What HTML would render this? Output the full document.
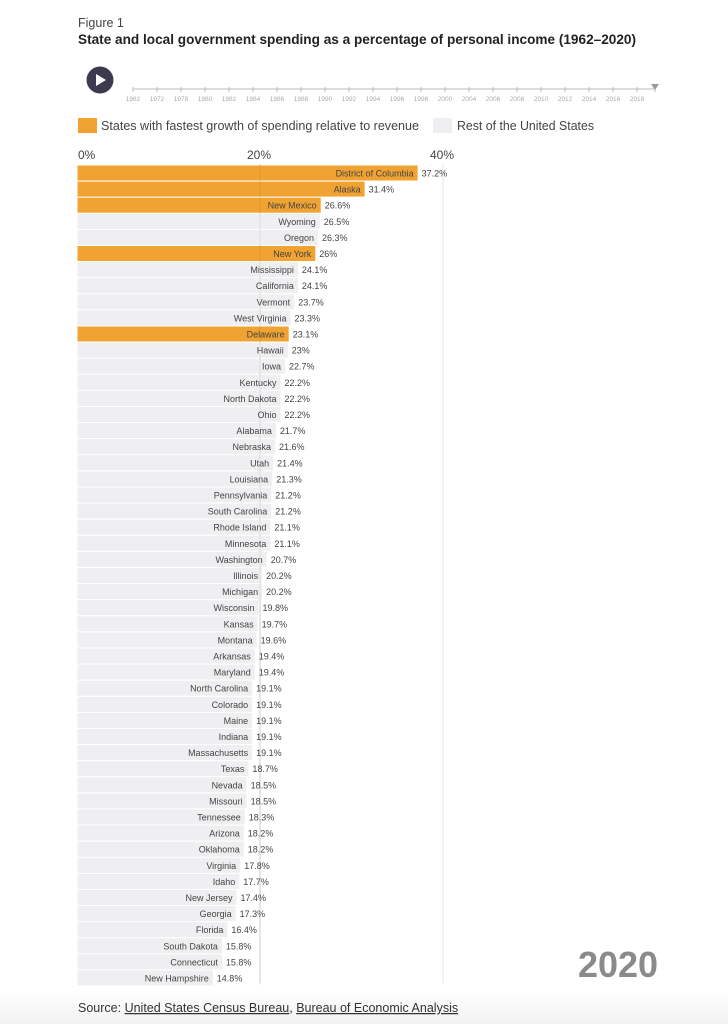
<!DOCTYPE html>
<html><head><meta charset="utf-8"><style>
html,body{margin:0;padding:0;background:#fff;}
body{width:728px;height:1024px;position:relative;overflow:hidden;font-family:"Liberation Sans",sans-serif;}
</style></head><body>
<svg width="728" height="1024" xmlns="http://www.w3.org/2000/svg" style="position:absolute;left:0;top:0;font-family:'Liberation Sans',sans-serif">
<defs><linearGradient id="fg" x1="0" y1="0" x2="0" y2="1"><stop offset="0" stop-color="#fff"/><stop offset="1" stop-color="#f2f2f2"/></linearGradient></defs>
<rect x="0" y="990" width="728" height="34" fill="url(#fg)"/>
<text x="78" y="27" font-size="12.5" fill="#444">Figure 1</text>
<text x="78" y="44" font-size="13.5" font-weight="bold" fill="#222" textLength="558" lengthAdjust="spacingAndGlyphs">State and local government spending as a percentage of personal income (1962–2020)</text>
<circle cx="100" cy="80" r="13.5" fill="#3d3a50"/>
<polygon points="96,74 96,86 106,80" fill="#fff"/>
<line x1="133" y1="89" x2="655" y2="89" stroke="#bbb" stroke-width="1"/>
<g stroke="#bbb" stroke-width="1">
<line x1="133" y1="87" x2="133" y2="92"/><line x1="157" y1="87" x2="157" y2="92"/><line x1="181" y1="87" x2="181" y2="92"/><line x1="205" y1="87" x2="205" y2="92"/><line x1="229" y1="87" x2="229" y2="92"/><line x1="253" y1="87" x2="253" y2="92"/><line x1="277" y1="87" x2="277" y2="92"/><line x1="301" y1="87" x2="301" y2="92"/><line x1="325" y1="87" x2="325" y2="92"/><line x1="349" y1="87" x2="349" y2="92"/><line x1="373" y1="87" x2="373" y2="92"/><line x1="397" y1="87" x2="397" y2="92"/><line x1="421" y1="87" x2="421" y2="92"/><line x1="445" y1="87" x2="445" y2="92"/><line x1="469" y1="87" x2="469" y2="92"/><line x1="493" y1="87" x2="493" y2="92"/><line x1="517" y1="87" x2="517" y2="92"/><line x1="541" y1="87" x2="541" y2="92"/><line x1="565" y1="87" x2="565" y2="92"/><line x1="589" y1="87" x2="589" y2="92"/><line x1="613" y1="87" x2="613" y2="92"/><line x1="637" y1="87" x2="637" y2="92"/><line x1="655" y1="87" x2="655" y2="92"/>
</g>
<polygon points="651,84 659,84 655,90" fill="#999"/>
<g font-size="6.5" fill="#aaa" text-anchor="middle">
<text x="133" y="101">1962</text><text x="157" y="101">1972</text><text x="181" y="101">1978</text><text x="205" y="101">1980</text><text x="229" y="101">1982</text><text x="253" y="101">1984</text><text x="277" y="101">1986</text><text x="301" y="101">1988</text><text x="325" y="101">1990</text><text x="349" y="101">1992</text><text x="373" y="101">1994</text><text x="397" y="101">1996</text><text x="421" y="101">1998</text><text x="445" y="101">2000</text><text x="469" y="101">2004</text><text x="493" y="101">2006</text><text x="517" y="101">2008</text><text x="541" y="101">2010</text><text x="565" y="101">2012</text><text x="589" y="101">2014</text><text x="613" y="101">2016</text><text x="637" y="101">2018</text>
</g>
<rect x="78" y="118" width="19" height="15" fill="#f0a332"/>
<text x="101" y="130" font-size="12.5" fill="#444" textLength="318" lengthAdjust="spacingAndGlyphs">States with fastest growth of spending relative to revenue</text>
<rect x="433" y="118" width="19" height="15" fill="#efeff1"/>
<text x="457" y="130" font-size="12.5" fill="#444" textLength="137" lengthAdjust="spacingAndGlyphs">Rest of the United States</text>
<g font-size="12" fill="#444"><text x="78" y="159">0%</text><text x="247" y="159">20%</text><text x="430" y="159">40%</text></g>
<g id="bars"></g>
<line x1="260" y1="164" x2="260" y2="983" stroke="#ddd" stroke-width="1"/>
<line x1="443" y1="164" x2="443" y2="983" stroke="#e6e6e6" stroke-width="1"/>
<text x="618" y="977" font-size="36" font-weight="bold" fill="#8a8a8a" text-anchor="middle">2020</text>
<text x="78" y="1012" font-size="12.5" fill="#333">Source: <tspan text-decoration="underline">United States Census Bureau</tspan>, <tspan text-decoration="underline">Bureau of Economic Analysis</tspan></text>
<g font-size="9" fill="#444">
<rect x="77.5" y="165.5" width="340.1" height="15" fill="#f0a332"/><text x="413.6" y="176.5" text-anchor="end">District of Columbia</text><text x="421.6" y="176.5">37.2%</text>
<rect x="77.5" y="181.6" width="287.1" height="15" fill="#f0a332"/><text x="360.6" y="192.6" text-anchor="end">Alaska</text><text x="368.6" y="192.6">31.4%</text>
<rect x="77.5" y="197.7" width="243.2" height="15" fill="#f0a332"/><text x="316.7" y="208.7" text-anchor="end">New Mexico</text><text x="324.7" y="208.7">26.6%</text>
<rect x="77.5" y="213.8" width="242.3" height="15" fill="#efeff1"/><text x="315.8" y="224.8" text-anchor="end">Wyoming</text><text x="323.8" y="224.8">26.5%</text>
<rect x="77.5" y="229.9" width="240.5" height="15" fill="#efeff1"/><text x="314.0" y="240.9" text-anchor="end">Oregon</text><text x="322.0" y="240.9">26.3%</text>
<rect x="77.5" y="246.0" width="237.8" height="15" fill="#f0a332"/><text x="311.3" y="257.0" text-anchor="end">New York</text><text x="319.3" y="257.0">26%</text>
<rect x="77.5" y="262.1" width="220.4" height="15" fill="#efeff1"/><text x="293.9" y="273.1" text-anchor="end">Mississippi</text><text x="301.9" y="273.1">24.1%</text>
<rect x="77.5" y="278.2" width="220.4" height="15" fill="#efeff1"/><text x="293.9" y="289.2" text-anchor="end">California</text><text x="301.9" y="289.2">24.1%</text>
<rect x="77.5" y="294.3" width="216.7" height="15" fill="#efeff1"/><text x="290.2" y="305.3" text-anchor="end">Vermont</text><text x="298.2" y="305.3">23.7%</text>
<rect x="77.5" y="310.4" width="213.0" height="15" fill="#efeff1"/><text x="286.5" y="321.4" text-anchor="end">West Virginia</text><text x="294.5" y="321.4">23.3%</text>
<rect x="77.5" y="326.5" width="211.2" height="15" fill="#f0a332"/><text x="284.7" y="337.5" text-anchor="end">Delaware</text><text x="292.7" y="337.5">23.1%</text>
<rect x="77.5" y="342.6" width="210.3" height="15" fill="#efeff1"/><text x="283.8" y="353.6" text-anchor="end">Hawaii</text><text x="291.8" y="353.6">23%</text>
<rect x="77.5" y="358.7" width="207.5" height="15" fill="#efeff1"/><text x="281.0" y="369.7" text-anchor="end">Iowa</text><text x="289.0" y="369.7">22.7%</text>
<rect x="77.5" y="374.8" width="203.0" height="15" fill="#efeff1"/><text x="276.5" y="385.8" text-anchor="end">Kentucky</text><text x="284.5" y="385.8">22.2%</text>
<rect x="77.5" y="390.9" width="203.0" height="15" fill="#efeff1"/><text x="276.5" y="401.9" text-anchor="end">North Dakota</text><text x="284.5" y="401.9">22.2%</text>
<rect x="77.5" y="407.0" width="203.0" height="15" fill="#efeff1"/><text x="276.5" y="418.0" text-anchor="end">Ohio</text><text x="284.5" y="418.0">22.2%</text>
<rect x="77.5" y="423.1" width="198.4" height="15" fill="#efeff1"/><text x="271.9" y="434.1" text-anchor="end">Alabama</text><text x="279.9" y="434.1">21.7%</text>
<rect x="77.5" y="439.2" width="197.5" height="15" fill="#efeff1"/><text x="271.0" y="450.2" text-anchor="end">Nebraska</text><text x="279.0" y="450.2">21.6%</text>
<rect x="77.5" y="455.3" width="195.6" height="15" fill="#efeff1"/><text x="269.1" y="466.3" text-anchor="end">Utah</text><text x="277.1" y="466.3">21.4%</text>
<rect x="77.5" y="471.4" width="194.7" height="15" fill="#efeff1"/><text x="268.2" y="482.4" text-anchor="end">Louisiana</text><text x="276.2" y="482.4">21.3%</text>
<rect x="77.5" y="487.5" width="193.8" height="15" fill="#efeff1"/><text x="267.3" y="498.5" text-anchor="end">Pennsylvania</text><text x="275.3" y="498.5">21.2%</text>
<rect x="77.5" y="503.6" width="193.8" height="15" fill="#efeff1"/><text x="267.3" y="514.6" text-anchor="end">South Carolina</text><text x="275.3" y="514.6">21.2%</text>
<rect x="77.5" y="519.7" width="192.9" height="15" fill="#efeff1"/><text x="266.4" y="530.7" text-anchor="end">Rhode Island</text><text x="274.4" y="530.7">21.1%</text>
<rect x="77.5" y="535.8" width="192.9" height="15" fill="#efeff1"/><text x="266.4" y="546.8" text-anchor="end">Minnesota</text><text x="274.4" y="546.8">21.1%</text>
<rect x="77.5" y="551.9" width="189.2" height="15" fill="#efeff1"/><text x="262.7" y="562.9" text-anchor="end">Washington</text><text x="270.7" y="562.9">20.7%</text>
<rect x="77.5" y="568.0" width="184.6" height="15" fill="#efeff1"/><text x="258.1" y="579.0" text-anchor="end">Illinois</text><text x="266.1" y="579.0">20.2%</text>
<rect x="77.5" y="584.1" width="184.6" height="15" fill="#efeff1"/><text x="258.1" y="595.1" text-anchor="end">Michigan</text><text x="266.1" y="595.1">20.2%</text>
<rect x="77.5" y="600.2" width="181.0" height="15" fill="#efeff1"/><text x="254.5" y="611.2" text-anchor="end">Wisconsin</text><text x="262.5" y="611.2">19.8%</text>
<rect x="77.5" y="616.3" width="180.1" height="15" fill="#efeff1"/><text x="253.6" y="627.3" text-anchor="end">Kansas</text><text x="261.6" y="627.3">19.7%</text>
<rect x="77.5" y="632.4" width="179.1" height="15" fill="#efeff1"/><text x="252.6" y="643.4" text-anchor="end">Montana</text><text x="260.6" y="643.4">19.6%</text>
<rect x="77.5" y="648.5" width="177.3" height="15" fill="#efeff1"/><text x="250.8" y="659.5" text-anchor="end">Arkansas</text><text x="258.8" y="659.5">19.4%</text>
<rect x="77.5" y="664.6" width="177.3" height="15" fill="#efeff1"/><text x="250.8" y="675.6" text-anchor="end">Maryland</text><text x="258.8" y="675.6">19.4%</text>
<rect x="77.5" y="680.7" width="174.6" height="15" fill="#efeff1"/><text x="248.1" y="691.7" text-anchor="end">North Carolina</text><text x="256.1" y="691.7">19.1%</text>
<rect x="77.5" y="696.8" width="174.6" height="15" fill="#efeff1"/><text x="248.1" y="707.8" text-anchor="end">Colorado</text><text x="256.1" y="707.8">19.1%</text>
<rect x="77.5" y="712.9" width="174.6" height="15" fill="#efeff1"/><text x="248.1" y="723.9" text-anchor="end">Maine</text><text x="256.1" y="723.9">19.1%</text>
<rect x="77.5" y="729.0" width="174.6" height="15" fill="#efeff1"/><text x="248.1" y="740.0" text-anchor="end">Indiana</text><text x="256.1" y="740.0">19.1%</text>
<rect x="77.5" y="745.1" width="174.6" height="15" fill="#efeff1"/><text x="248.1" y="756.1" text-anchor="end">Massachusetts</text><text x="256.1" y="756.1">19.1%</text>
<rect x="77.5" y="761.2" width="170.9" height="15" fill="#efeff1"/><text x="244.4" y="772.2" text-anchor="end">Texas</text><text x="252.4" y="772.2">18.7%</text>
<rect x="77.5" y="777.3" width="169.1" height="15" fill="#efeff1"/><text x="242.6" y="788.3" text-anchor="end">Nevada</text><text x="250.6" y="788.3">18.5%</text>
<rect x="77.5" y="793.4" width="169.1" height="15" fill="#efeff1"/><text x="242.6" y="804.4" text-anchor="end">Missouri</text><text x="250.6" y="804.4">18.5%</text>
<rect x="77.5" y="809.5" width="167.3" height="15" fill="#efeff1"/><text x="240.8" y="820.5" text-anchor="end">Tennessee</text><text x="248.8" y="820.5">18.3%</text>
<rect x="77.5" y="825.6" width="166.3" height="15" fill="#efeff1"/><text x="239.8" y="836.6" text-anchor="end">Arizona</text><text x="247.8" y="836.6">18.2%</text>
<rect x="77.5" y="841.7" width="166.3" height="15" fill="#efeff1"/><text x="239.8" y="852.7" text-anchor="end">Oklahoma</text><text x="247.8" y="852.7">18.2%</text>
<rect x="77.5" y="857.8" width="162.7" height="15" fill="#efeff1"/><text x="236.2" y="868.8" text-anchor="end">Virginia</text><text x="244.2" y="868.8">17.8%</text>
<rect x="77.5" y="873.9" width="161.8" height="15" fill="#efeff1"/><text x="235.3" y="884.9" text-anchor="end">Idaho</text><text x="243.3" y="884.9">17.7%</text>
<rect x="77.5" y="890.0" width="159.0" height="15" fill="#efeff1"/><text x="232.5" y="901.0" text-anchor="end">New Jersey</text><text x="240.5" y="901.0">17.4%</text>
<rect x="77.5" y="906.1" width="158.1" height="15" fill="#efeff1"/><text x="231.6" y="917.1" text-anchor="end">Georgia</text><text x="239.6" y="917.1">17.3%</text>
<rect x="77.5" y="922.2" width="149.9" height="15" fill="#efeff1"/><text x="223.4" y="933.2" text-anchor="end">Florida</text><text x="231.4" y="933.2">16.4%</text>
<rect x="77.5" y="938.3" width="144.4" height="15" fill="#efeff1"/><text x="217.9" y="949.3" text-anchor="end">South Dakota</text><text x="225.9" y="949.3">15.8%</text>
<rect x="77.5" y="954.4" width="144.4" height="15" fill="#efeff1"/><text x="217.9" y="965.4" text-anchor="end">Connecticut</text><text x="225.9" y="965.4">15.8%</text>
<rect x="77.5" y="970.5" width="135.3" height="15" fill="#efeff1"/><text x="208.8" y="981.5" text-anchor="end">New Hampshire</text><text x="216.8" y="981.5">14.8%</text>
</g>
<line x1="260" y1="164" x2="260" y2="985" stroke="#000" stroke-opacity="0.07" stroke-width="1"/>
</svg>
</body></html>
